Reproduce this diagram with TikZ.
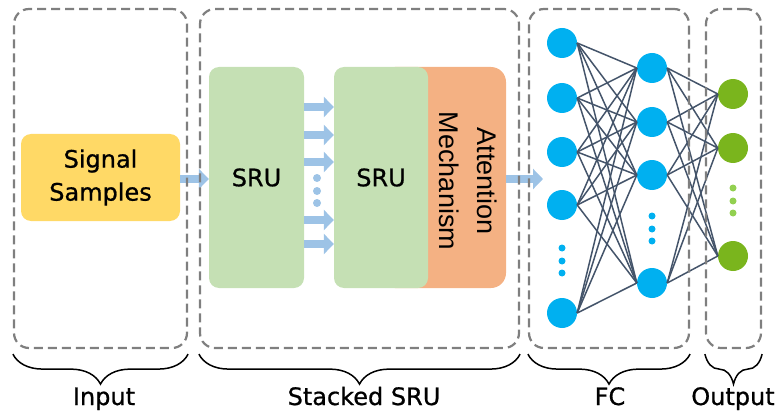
\documentclass[tikz,border=0pt]{standalone}
\usepackage{fontspec}
\setmainfont[FakeBold=0.8]{DejaVu Sans}
\newfontfamily\attnfont{Liberation Sans}
\usetikzlibrary{arrows.meta,decorations.pathreplacing}

\definecolor{sigyellow}{HTML}{FFD966}
\definecolor{srugreen}{HTML}{C5E0B4}
\definecolor{attnorange}{HTML}{F4B183}
\definecolor{flowblue}{HTML}{9DC3E6}
\definecolor{neuronblue}{HTML}{00B0F0}
\definecolor{outgreen}{HTML}{7AB51D}
\definecolor{dotgreen}{HTML}{92D050}
\definecolor{wire}{HTML}{44546A}
\definecolor{framegray}{HTML}{7F7F7F}

\tikzset{
  block/.style={rounded corners=10pt, inner sep=0pt, align=center,
    font=\fontsize{24}{33}\selectfont},
  groupbox/.style={draw=framegray, line width=2.2pt, dash pattern=on 9pt off 5pt,
    rounded corners=15pt, inner sep=0pt},
  blockarr/.style={draw=flowblue, line width=8.5pt,
    -{Triangle[width=20pt,length=10pt]}},
  sdot/.style={circle, fill=flowblue, minimum size=8pt, inner sep=0pt},
  neuron/.style={circle, fill=neuronblue, minimum size=30pt, inner sep=0pt},
  outneuron/.style={circle, fill=outgreen, minimum size=30pt, inner sep=0pt},
  ndot/.style={circle, fill=neuronblue, minimum size=7pt, inner sep=0pt},
  odot/.style={circle, fill=dotgreen, minimum size=7pt, inner sep=0pt},
  edge/.style={draw=wire, line width=1.5pt},
  grpbrace/.style={decorate, decoration={brace, mirror, amplitude=30pt},
    line width=1.5pt},
  grplabel/.style={anchor=base, font=\fontsize{24}{28}\selectfont}
}

\begin{document}
\begin{tikzpicture}[x=1pt,y=-1pt]
\useasboundingbox (0,0) rectangle (776,417);

% input block
\node[block, fill=sigyellow, minimum width=159pt, minimum height=87pt]
  (sig) at (100.5,177.5) {Signal\\Samples};

% stacked SRU blocks
\node[block, fill=srugreen, minimum width=95pt, minimum height=221pt]
  (sru1) at (256.5,177.5) {SRU};
\node[block, rounded corners=15pt, fill=attnorange, minimum width=126pt,
  minimum height=221pt] (attn) at (443,177.5) {};
\node[block, fill=srugreen, minimum width=94pt, minimum height=221pt]
  (sru2) at (381,177.5) {SRU};
\node[rotate=-90, align=center, font=\attnfont\fontsize{27}{38}\selectfont]
  (attntext) at (468,181) {Attention\\Mechanism};

% arrows between the SRU layers
\foreach \y in {107,135,162,220,244}
  \draw[blockarr] (sru1.east |- 0,\y) -- (sru2.west |- 0,\y);
\foreach \y [count=\i] in {178,191,203}
  \node[sdot] (sd\i) at (317,\y) {};

% fully connected layers
\foreach \y [count=\i] in {43,98,152,205,313}
  \node[neuron] (p\i) at (562,\y) {};
\foreach \y [count=\i] in {68,122,175,283}
  \node[neuron] (q\i) at (652,\y) {};
\foreach \y [count=\i] in {94,148,256}
  \node[outneuron] (r\i) at (733,\y) {};
\foreach \y [count=\i] in {248,261,273}
  \node[ndot] (pd\i) at (562,\y) {};
\foreach \y [count=\i] in {216,229,241}
  \node[ndot] (qd\i) at (652,\y) {};
\foreach \y [count=\i] in {188,201,213}
  \node[odot] (rd\i) at (733,\y) {};

\foreach \a in {1,...,5}
  \foreach \b in {1,...,4}
    \draw[edge] (p\a.east) -- (q\b.west);
\foreach \a in {1,...,4}
  \foreach \b in {1,...,3}
    \draw[edge] (q\a.east) -- (r\b.west);

% data flow arrows
\coordinate (fcin) at (543,179);
\draw[blockarr] (sig.east |- 0,179) -- (sru1.west |- 0,179);
\draw[blockarr] (attn.east |- fcin) -- (fcin);

% dashed group frames
\node[groupbox, minimum width=173pt, minimum height=339pt] (gin) at (100.5,178.5) {};
\node[groupbox, minimum width=319pt, minimum height=339pt] (gsru) at (359.5,178.5) {};
\node[groupbox, minimum width=160pt, minimum height=339pt] (gfc) at (609,178.5) {};
\node[groupbox, minimum width=55pt, minimum height=339pt] (gout) at (733.5,178.5) {};

% braces and group labels
\foreach \g in {gin,gsru,gfc,gout}
  \draw[grpbrace] ([yshift=-5pt]\g.south west) -- ([yshift=-5pt]\g.south east);

\node[grplabel] (lin) at (104,405) {Input};
\node[grplabel] (lsru) at (364,405) {Stacked SRU};
\node[grplabel] (lfc) at (610,405) {FC};
\node[grplabel] (lout) at (733,405) {Output};
\end{tikzpicture}
\end{document}
